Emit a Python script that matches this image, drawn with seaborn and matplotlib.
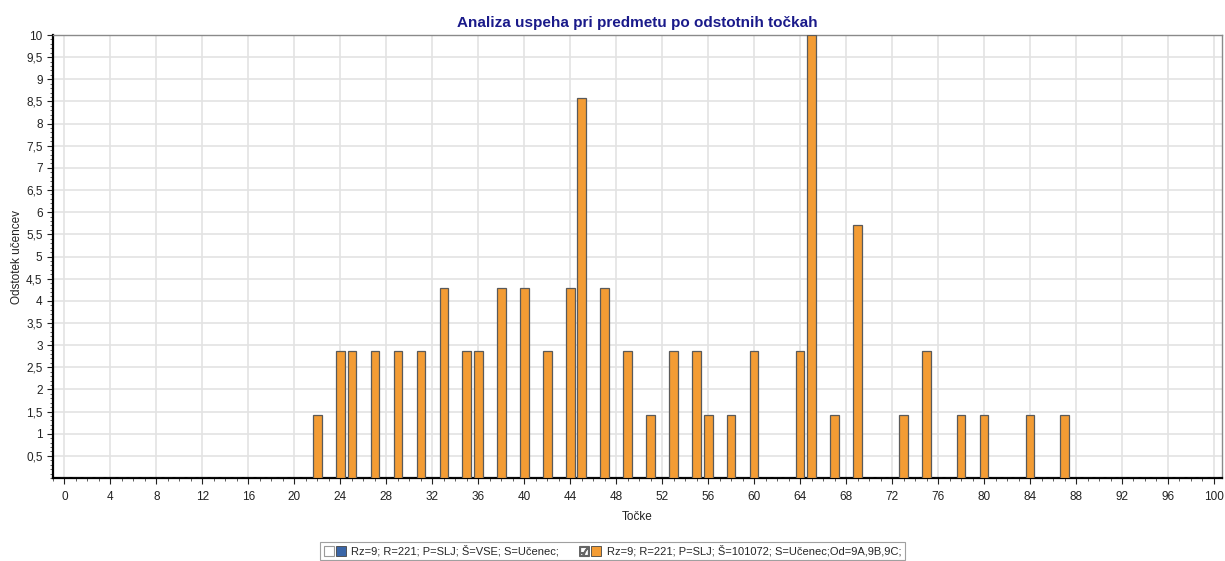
import numpy as np
import pandas as pd
import seaborn as sns
import matplotlib
matplotlib.use("Agg")
import matplotlib.pyplot as plt
from matplotlib.ticker import MultipleLocator, FixedLocator, FuncFormatter
from matplotlib.patches import Patch
from matplotlib.lines import Line2D
from matplotlib.legend_handler import HandlerTuple

# ---- data ----
points = [22, 24, 25, 27, 29, 31, 33, 35, 36, 38, 40, 42, 44, 45, 47, 49, 51,
          53, 55, 56, 58, 60, 64, 65, 67, 69, 73, 75, 78, 80, 84, 87]
students = [1, 2, 2, 2, 2, 2, 3, 2, 2, 3, 3, 2, 3, 6, 3, 2, 1,
            2, 2, 1, 1, 2, 2, 7, 1, 4, 1, 2, 1, 1, 1, 1]
total_students = 70
x_ticks = list(range(0, 101, 4))
y_ticks = [0.5, 1, 1.5, 2, 2.5, 3, 3.5, 4, 4.5, 5, 5.5, 6, 6.5, 7, 7.5, 8, 8.5, 9, 9.5, 10]
title = "Analiza uspeha pri predmetu po odstotnih točkah"
xlabel = "Točke"
ylabel = "Odstotek učencev"
legend_labels = ["Rz=9; R=221; P=SLJ; Š=VSE; S=Učenec;",
                 "Rz=9; R=221; P=SLJ; Š=101072; S=Učenec;Od=9A,9B,9C;"]

orange = "#F39C34"
blue = "#3A66A8"

df = pd.DataFrame({"Točke": points, "pct": np.array(students) / total_students * 100})
full = pd.DataFrame({"Točke": np.arange(0, 101)}).merge(df, on="Točke", how="left").fillna(0)

sns.set_style("white")
plt.rcParams["font.family"] = ["Liberation Sans", "DejaVu Sans"]

fig = plt.figure(figsize=(12.25, 5.61), dpi=100)
ax = fig.add_axes([53 / 1225, 1 - 478 / 561, (1222 - 53) / 1225, (478 - 35) / 561])

sns.barplot(data=full, x="Točke", y="pct", native_scale=True, width=0.75,
            color=orange, saturation=1, edgecolor="#5a5a5a", linewidth=0.9, ax=ax, zorder=3)

ax.set_xlim(-1, 100.7)
ax.set_ylim(0, 10)
ax.xaxis.set_major_locator(FixedLocator(x_ticks))
ax.xaxis.set_minor_locator(MultipleLocator(1))
ax.yaxis.set_major_locator(FixedLocator(y_ticks))
ax.yaxis.set_minor_locator(MultipleLocator(0.1))
ax.yaxis.set_major_formatter(FuncFormatter(lambda v, p: ("%g" % v).replace(".", ",")))
ax.xaxis.set_major_formatter(FuncFormatter(lambda v, p: "%d" % v))

ax.grid(True, which="major", color="#e3e3e3", linewidth=1.2, zorder=0)
ax.set_axisbelow(True)

ax.tick_params(axis="both", which="major", direction="out", length=4, width=0.8,
               labelsize=8.5, colors="#222222", bottom=True, left=True)
ax.tick_params(axis="both", which="minor", direction="out", length=2.5, width=0.6,
               colors="#444444", bottom=True, left=True)
ax.tick_params(axis="x", pad=5)

for s in ["left", "bottom"]:
    ax.spines[s].set_color("black")
    ax.spines[s].set_linewidth(1.6)
for s in ["top", "right"]:
    ax.spines[s].set_color("#8a8a8a")
    ax.spines[s].set_linewidth(1.0)

ax.set_xlabel(xlabel, fontsize=8.5, labelpad=6, color="#222222")
ax.set_ylabel(ylabel, fontsize=8.5, labelpad=2, color="#222222")
ax.set_title(title, fontsize=11, fontweight="bold", color="#1a1a8a", pad=6)

unchecked = Line2D([], [], marker="s", markersize=6.5, markerfacecolor="white",
                   markeredgecolor="#9a9a9a", markeredgewidth=0.8, linestyle="None")
checked = Line2D([], [], marker="$\u2611$", markersize=7, color="#666666", linestyle="None")
h1 = (unchecked, Patch(facecolor=blue, edgecolor="#444444", linewidth=0.6))
h2 = (checked, Patch(facecolor=orange, edgecolor="#444444", linewidth=0.6))
leg = fig.legend([h1, h2], legend_labels, loc="center", bbox_to_anchor=(0.5, 1 - 551 / 561),
                 ncol=2, fontsize=8, frameon=True, fancybox=False, edgecolor="#888888",
                 handler_map={tuple: HandlerTuple(ndivide=None, pad=0.2)},
                 handlelength=2.0, handleheight=0.9, handletextpad=0.5, columnspacing=1.8,
                 borderpad=0.3)
leg.get_frame().set_linewidth(0.8)

fig.savefig("out.png", dpi=100)
